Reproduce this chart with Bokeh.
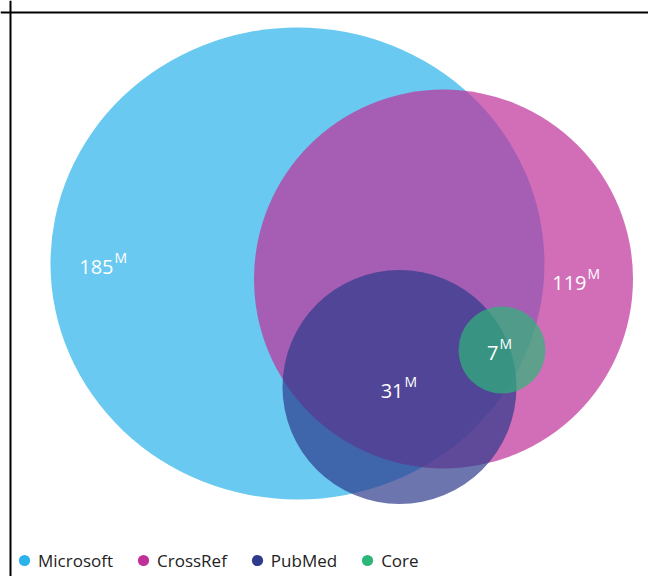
from bokeh.plotting import figure
from bokeh.models import Range1d, Legend, LegendItem, ColumnDataSource, Span
from bokeh.core.properties import value
from bokeh.embed import file_html
from bokeh.resources import INLINE

# ---- data ----
sets = ["Microsoft", "CrossRef", "PubMed", "Core"]
counts = [185, 119, 31, 7]          # millions
unit = ["M", "M", "M", "M"]

# ---- layout / style (pixel layout of the Venn diagram) ----
colors = ["#2AB2EA", "#BF3099", "#2E3A8C", "#2DB57A"]
cx = [297, 443, 399, 501.5]
cy = [263, 278.5, 386.5, 349.5]
cw = [494, 379, 234, 87]
ch = [472, 379, 234, 87]
lab_x = [113, 586, 403, 498]
lab_y = [266, 282, 390, 352]

W, H = 648, 576
p = figure(width=W, height=H, output_backend="svg", toolbar_location=None,
           x_range=Range1d(0, W), y_range=Range1d(H, 0),
           x_axis_type=None, y_axis_type=None, min_border=0)
p.grid.visible = False
p.outline_line_color = None
p.background_fill_color = "white"
p.border_fill_color = "white"

# frame lines of the original screenshot (left and top)
p.add_layout(Span(location=10, dimension="height", line_color="black", line_width=2))
p.add_layout(Span(location=12, dimension="width", line_color="black", line_width=2))

src = ColumnDataSource(dict(x=cx, y=cy, w=cw, h=ch, c=colors, name=sets))
p.ellipse(x="x", y="y", width="w", height="h", fill_color="c", fill_alpha=0.7,
          line_color=None, source=src)

tsrc = ColumnDataSource(dict(
    x=lab_x, y=lab_y,
    xm=[v + 1 for v in lab_x], ym=[v - 9 for v in lab_y],
    num=[str(v) for v in counts], u=unit))
p.text(x="x", y="y", text="num", source=tsrc, text_color="white",
       text_font=value("Open Sans"), text_font_size="20px",
       text_align="right", text_baseline="alphabetic")
p.text(x="xm", y="ym", text="u", source=tsrc, text_color="white",
       text_font=value("Open Sans"), text_font_size="14px",
       text_align="left", text_baseline="alphabetic")

nan = float("nan")
items = []
for name, col in zip(sets, colors):
    r = p.scatter(x=[nan], y=[nan], marker="circle", size=11, fill_color=col, line_color=None)
    items.append(LegendItem(label=name, renderers=[r]))

legend = Legend(items=items, orientation="horizontal", location=(10, 2),
                glyph_width=28, glyph_height=28, label_standoff=0, spacing=16,
                padding=0, margin=0, border_line_color=None,
                background_fill_alpha=0, label_text_font="Open Sans",
                label_text_font_size="17px", label_text_color="#222222")
p.add_layout(legend, "center")

open("out.html", "w").write(file_html(p, INLINE))
